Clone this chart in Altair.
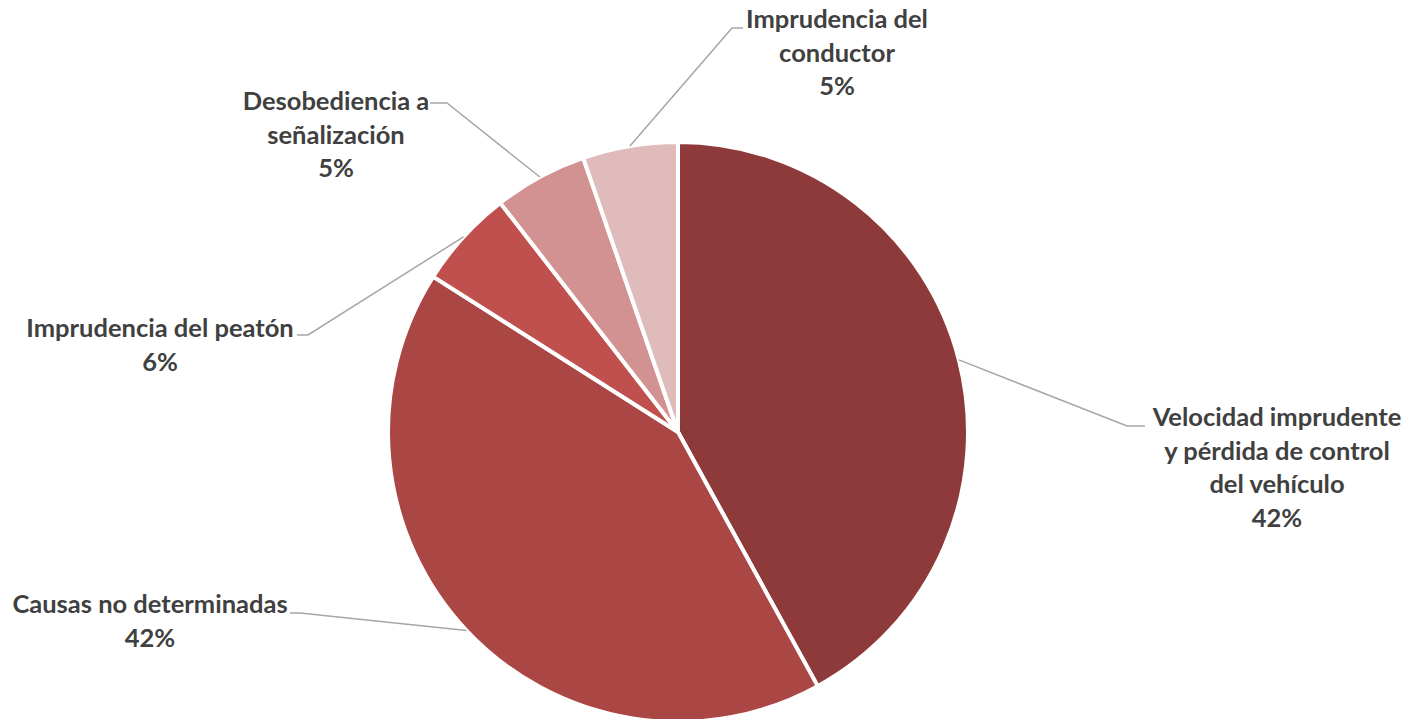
import math
import altair as alt
import pandas as pd

# ---- data ----
categories = [
    "Velocidad imprudente y pérdida de control del vehículo",
    "Causas no determinadas",
    "Imprudencia del peatón",
    "Desobediencia a señalización",
    "Imprudencia del conductor",
]
values = [42.0, 42.0, 5.5, 5.2, 5.3]
label_lines = [
    ["Velocidad imprudente", "y pérdida de control", "del vehículo"],
    ["Causas no determinadas"],
    ["Imprudencia del peatón"],
    ["Desobediencia a", "señalización"],
    ["Imprudencia del", "conductor"],
]
percent_labels = ["42%", "42%", "6%", "5%", "5%"]
colors = ["#8E3A3A", "#AA4644", "#C0504D", "#D39292", "#E0BBBB"]

# ---- layout (chart pixels) ----
W, H = 1400, 711
CX, CY = 670, 424
R = 290
LH = 33.5
FS = 25.5
# label placement relative to pie centre: (elbow dx, dy), (tick end dx), (text centre dx, first line dy)
layout = [
    ((449, -6), 467, (599, -14)),
    ((-378, 181), -388, (-528, 173)),
    ((-370, -97), -381, (-518, -103)),
    ((-231, -329), -248, (-342, -330)),
    ((54, -404), 65, (159, -412)),
]

total = sum(values)
rows_pie, rows_line, rows_text = [], [], []
cum = 0.0
for i, (cat, v) in enumerate(zip(categories, values)):
    rows_pie.append({"cat": cat, "value": v, "idx": i})
    mid = (cum + v / 2) / total * 2 * math.pi
    cum += v
    ex, ey = CX + R * math.sin(mid), CY - R * math.cos(mid)
    (edx, edy), tdx, (txd, tyd) = layout[i]
    pts = [(ex, ey), (CX + edx, CY + edy), (CX + tdx, CY + edy)]
    for k, (px, py) in enumerate(pts):
        rows_line.append({"cat": cat, "pt": k, "px": px, "py": py})
    lines = label_lines[i] + [percent_labels[i]]
    rows_text.append({
        "cat": cat,
        "label": "\n".join(lines),
        "px": CX + txd,
        "py": CY + tyd,
    })

pie_df = pd.DataFrame(rows_pie)
line_df = pd.DataFrame(rows_line)
text_df = pd.DataFrame(rows_text)

pie = alt.Chart(pie_df).mark_arc(radius=R, stroke="white", strokeWidth=4).encode(
    theta=alt.Theta("value:Q", stack=True),
    color=alt.Color("cat:N", scale=alt.Scale(domain=categories, range=colors), legend=None),
    order=alt.Order("idx:Q"),
    x=alt.value(CX),
    y=alt.value(CY),
)

leaders = alt.Chart(line_df).mark_line(color="#A6A6A6", strokeWidth=1.5).encode(
    x=alt.X("px:Q", scale=None, axis=None),
    y=alt.Y("py:Q", scale=None, axis=None),
    detail="cat:N",
    order="pt:Q",
)

texts = alt.Chart(text_df).mark_text(
    font="Lato", fontWeight="bold", fontSize=FS, color="#404040",
    lineBreak="\n", lineHeight=LH, align="center", baseline="middle",
).encode(
    x=alt.X("px:Q", scale=None, axis=None),
    y=alt.Y("py:Q", scale=None, axis=None),
    text="label:N",
)

chart = alt.layer(pie, leaders, texts).properties(
    width=W, height=H, autosize=alt.AutoSizeParams(type="none"), padding=0
).configure_view(stroke=None)

chart.save("out.html", embed_options={"renderer": "svg", "actions": False})
